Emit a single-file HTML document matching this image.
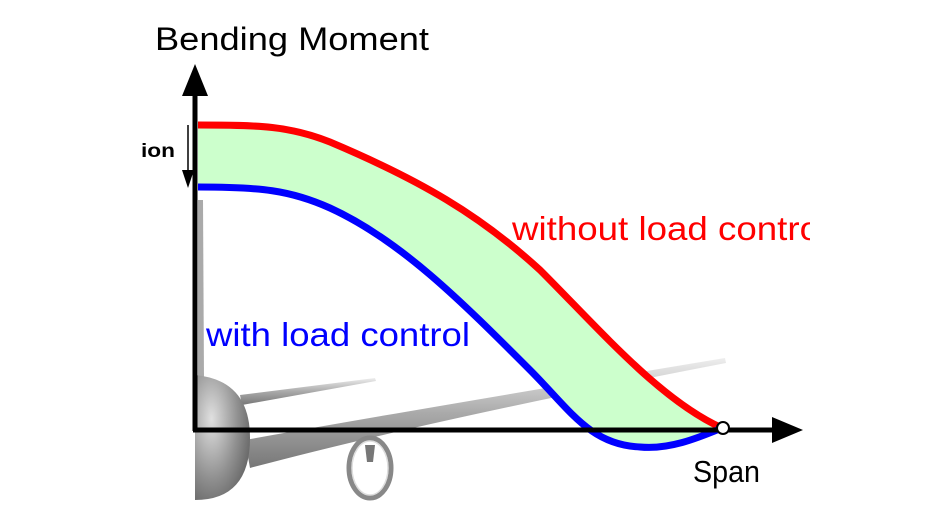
<!DOCTYPE html>
<html><head><style>
html,body{margin:0;padding:0;background:#fff;}
svg{display:block;}
text{font-family:"Liberation Sans",Arial,sans-serif;}
</style></head><body>
<svg width="945" height="532" viewBox="0 0 945 532">
<defs>
<radialGradient id="fg" cx="0.3" cy="0.35" r="0.8">
<stop offset="0" stop-color="#e0e0e0"/><stop offset="0.6" stop-color="#909090"/><stop offset="1" stop-color="#606060"/>
</radialGradient>
<linearGradient id="wg" x1="0" y1="0" x2="0" y2="1">
<stop offset="0" stop-color="#eee"/><stop offset="0.5" stop-color="#aaa"/><stop offset="1" stop-color="#777"/>
</linearGradient>
<clipPath id="cp"><rect x="0" y="0" width="810" height="532"/></clipPath>
</defs>
<!-- airplane -->
<path d="M198 200 L203 200 L204 380 L198 380 Z" fill="#aaa"/>
<path d="M240 395 L375 378 L376 381 L242 405 Z" fill="url(#wg)"/>
<path d="M245 440 Q400 412 725 358 L726 363 Q430 420 250 468 Z" fill="url(#wg)"/>
<path d="M195 375 Q250 380 250 438 Q250 500 195 500 Z" fill="url(#fg)"/>
<path d="M365 445 L375 445 L373 462 L367 462 Z" fill="#777"/>
<ellipse cx="370" cy="468" rx="21" ry="30" fill="none" stroke="#888" stroke-width="5"/>
<ellipse cx="370" cy="468" rx="18" ry="27" fill="none" stroke="#ddd" stroke-width="1.5"/>
<!-- fill band -->
<path d="M198 125 C260 125 290 126 330 142 C420 180 480 215 540 270 C600 330 660 400 722 428 C700 437 670 450 640 447 C590 445 570 410 530 370 C460 300 400 240 330 208 C290 190 260 187 198 187 Z" fill="#ccffcc"/>
<!-- curves -->
<path d="M198 125 C260 125 290 126 330 142 C420 180 480 215 540 270 C600 330 660 400 722 428" fill="none" stroke="#ff0000" stroke-width="7"/>
<path d="M198 187 C260 187 290 190 330 208 C400 240 460 300 530 370 C570 410 590 445 640 447 C670 450 700 437 722 428" fill="none" stroke="#0000ff" stroke-width="7"/>
<!-- axes -->
<line x1="195" y1="431" x2="195" y2="90" stroke="#000" stroke-width="5"/>
<polygon points="195,64 182,96 208,96" fill="#000"/>
<line x1="193" y1="430" x2="780" y2="430" stroke="#000" stroke-width="5"/>
<polygon points="803,430 772,417 772,443" fill="#000"/>
<circle cx="723" cy="428" r="6" fill="#fff" stroke="#000" stroke-width="2"/>
<!-- small arrow -->
<line x1="188" y1="125" x2="188" y2="175" stroke="#000" stroke-width="1.5"/>
<polygon points="188,188 182,170 194,170" fill="#000"/>
<!-- labels -->
<text x="155" y="50" font-size="32" textLength="274" lengthAdjust="spacingAndGlyphs" fill="#000">Bending Moment</text>
<text x="141" y="157" font-size="19" font-weight="bold" textLength="34" lengthAdjust="spacingAndGlyphs" fill="#000">ion</text>
<g clip-path="url(#cp)">
<text x="512" y="240" font-size="33" textLength="308" lengthAdjust="spacingAndGlyphs" fill="#ff0000">without load contro</text>
</g>
<text x="206" y="346" font-size="33" textLength="264" lengthAdjust="spacingAndGlyphs" fill="#0000ff">with load control</text>
<text x="693" y="482" font-size="31" textLength="67" lengthAdjust="spacingAndGlyphs" fill="#000">Span</text>
</svg>
</body></html>
